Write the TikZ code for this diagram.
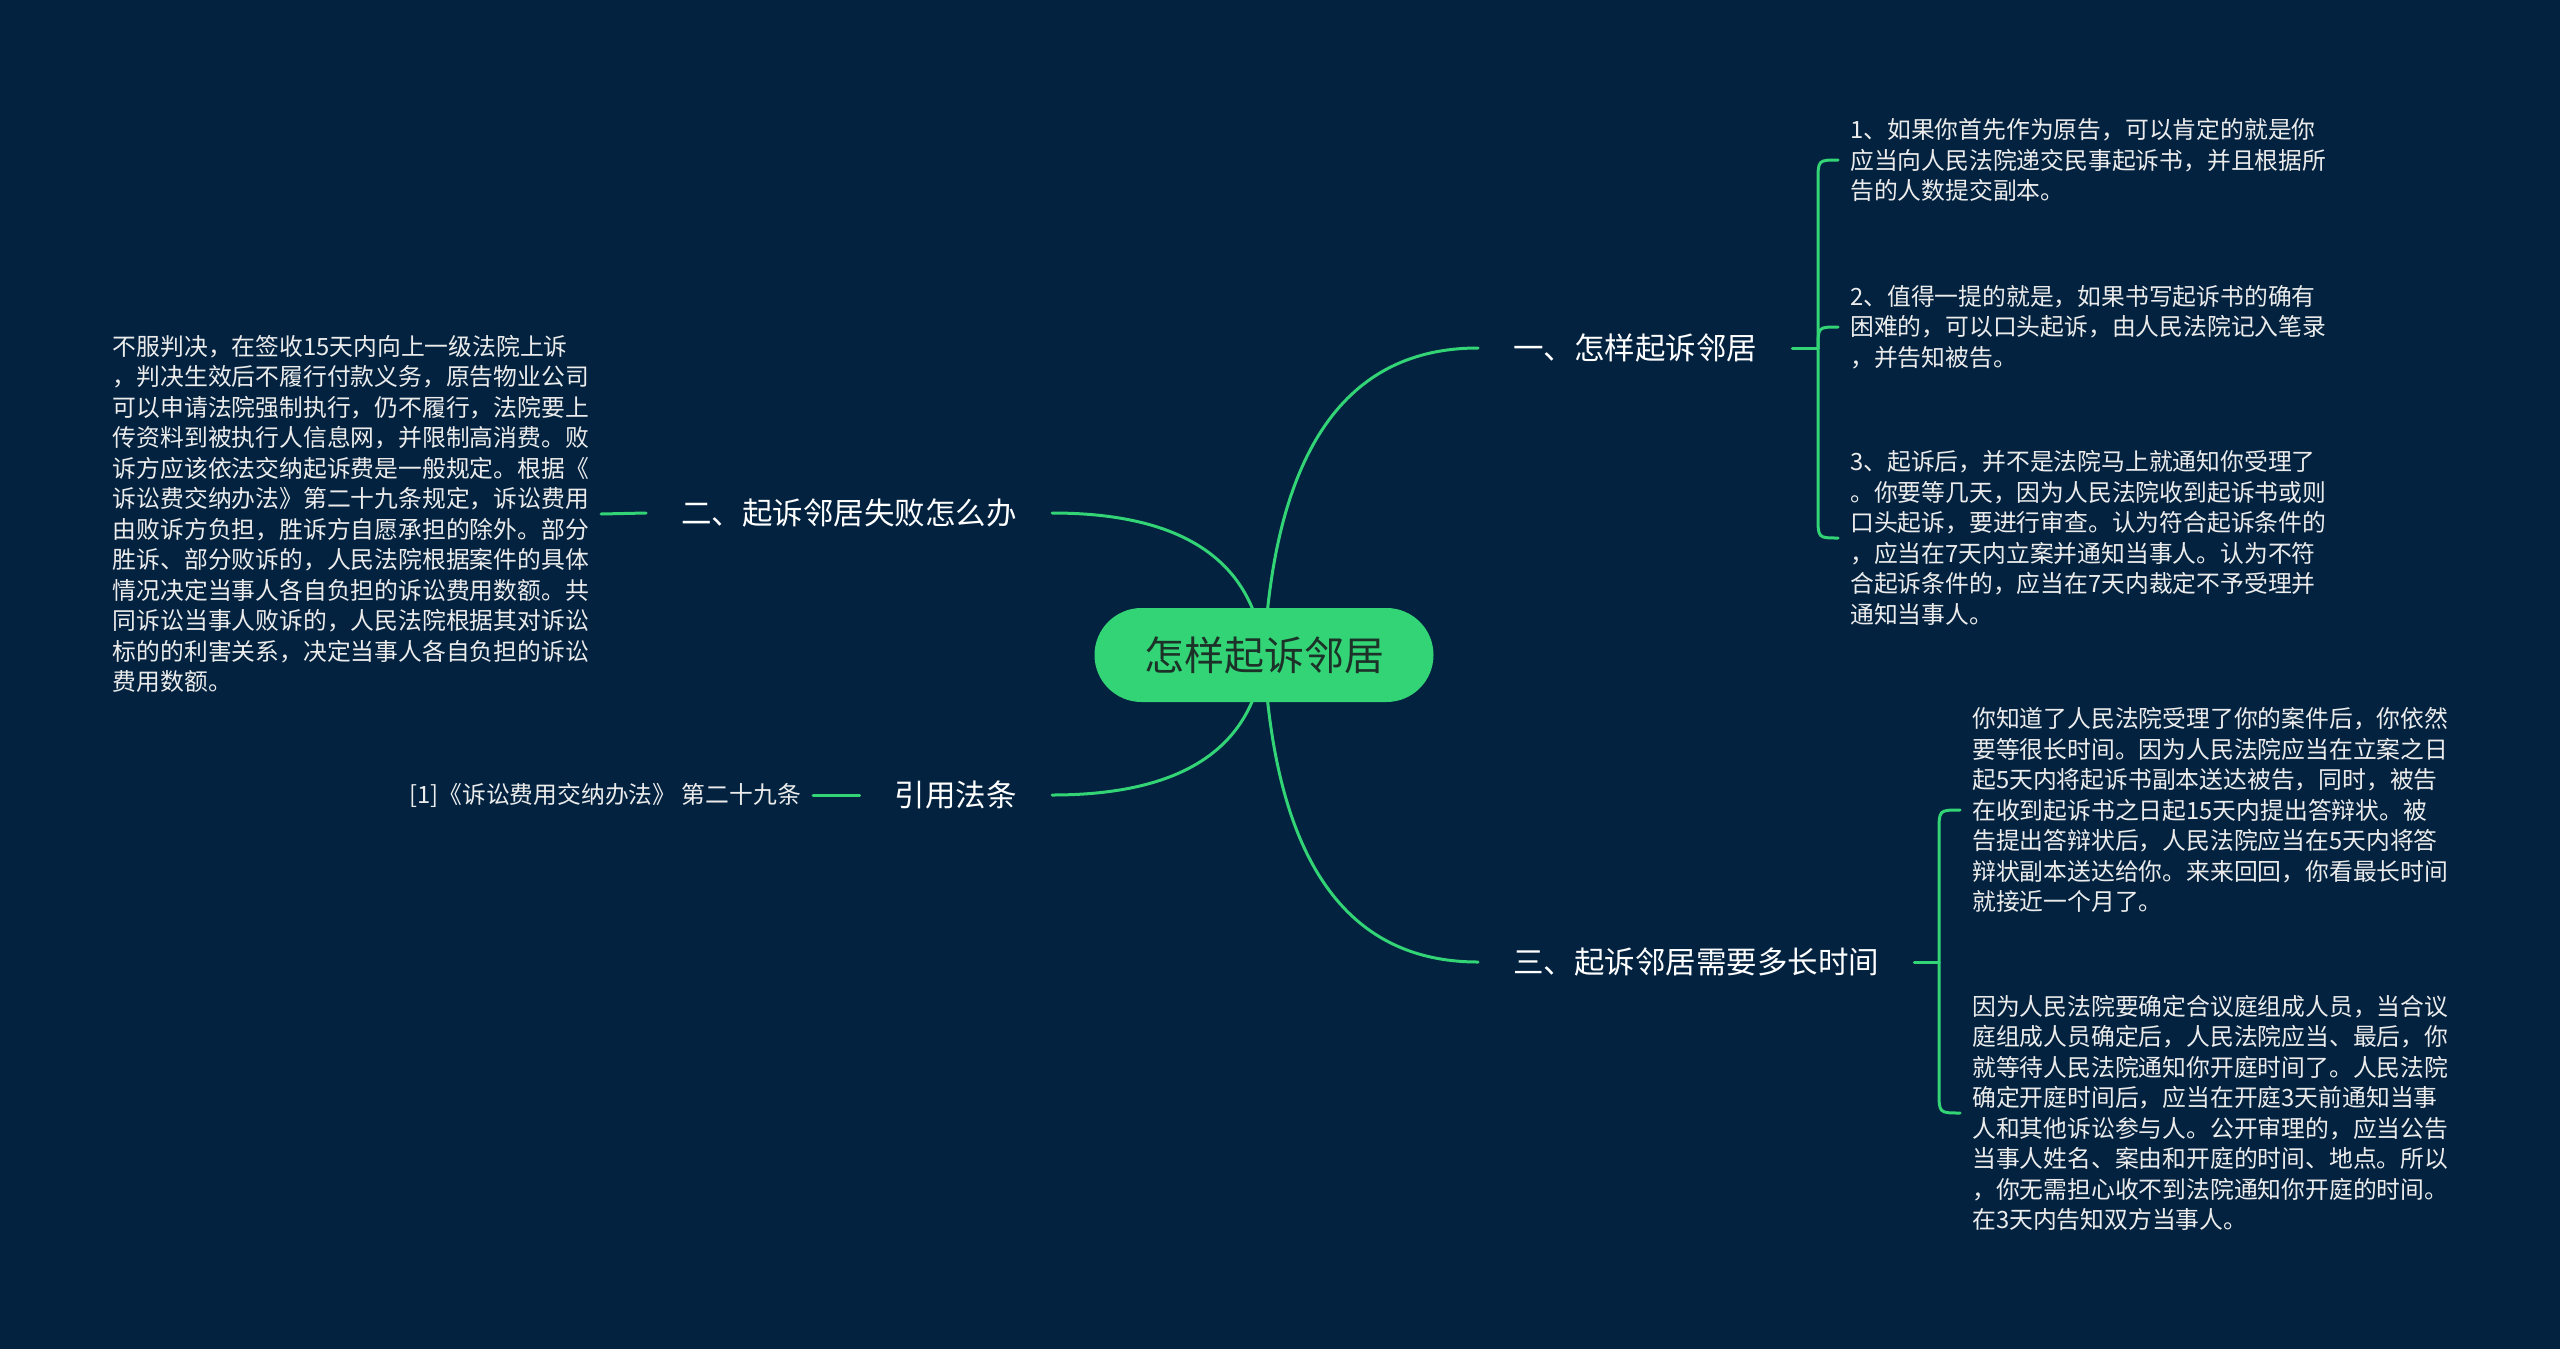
\documentclass[tikz,border=0pt]{standalone}
\usepackage{fontspec}
\setmainfont{Noto Sans CJK SC}
\usetikzlibrary{calc}
\definecolor{bg}{RGB}{2,34,63}
\definecolor{mm}{RGB}{51,212,118}
\definecolor{roottext}{RGB}{28,50,40}
\definecolor{leaftext}{RGB}{236,236,236}
\pgfdeclarelayer{bglayer}
\pgfdeclarelayer{linklayer}
\pgfsetlayers{bglayer,linklayer,main}
\begin{document}
\begin{tikzpicture}[x=1pt,y=-1pt,
  link/.style={draw=mm, line width=3pt, line cap=round},
  rootnode/.style={fill=mm, rounded corners=47pt, minimum width=339pt, minimum height=94pt, inner sep=0pt, text=roottext, font=\fontsize{40}{48}\selectfont},
  branch/.style={text=white, inner xsep=35pt, inner ysep=4pt, font=\fontsize{30.5}{36}\selectfont},
  leaf/.style={text=leaftext, align=left, inner xsep=12pt, inner ysep=4pt, font=\fontsize{23.8}{30.5}\selectfont}]
\useasboundingbox (0,0) rectangle (2560,1349);
\begin{pgfonlayer}{bglayer}
\fill[bg] (0,0) rectangle (2560,1349);
\end{pgfonlayer}

\node[rootnode] (root) at (1264,655) {怎样起诉邻居};
\node[branch, anchor=west] (b1) at (1478,348) {一、怎样起诉邻居};
\node[branch, anchor=east] (b2) at (1052,513) {二、起诉邻居失败怎么办};
\node[branch, anchor=east] (b3) at (1052,795) {引用法条};
\node[branch, anchor=west] (b4) at (1478,962) {三、起诉邻居需要多长时间};

\node[leaf, anchor=west] (l11) at (1838,160) {1、如果你首先作为原告，可以肯定的就是你\\应当向人民法院递交民事起诉书，并且根据所\\告的人数提交副本。};
\node[leaf, anchor=west] (l12) at (1838,327) {2、值得一提的就是，如果书写起诉书的确有\\困难的，可以口头起诉，由人民法院记入笔录\\，并告知被告。};
\node[leaf, anchor=west] (l13) at (1838,538) {3、起诉后，并不是法院马上就通知你受理了\\。你要等几天，因为人民法院收到起诉书或则\\口头起诉，要进行审查。认为符合起诉条件的\\，应当在7天内立案并通知当事人。认为不符\\合起诉条件的，应当在7天内裁定不予受理并\\通知当事人。};

\node[leaf, anchor=east] (l2) at (601,514) {不服判决，在签收15天内向上一级法院上诉\\，判决生效后不履行付款义务，原告物业公司\\可以申请法院强制执行，仍不履行，法院要上\\传资料到被执行人信息网，并限制高消费。败\\诉方应该依法交纳起诉费是一般规定。根据《\\诉讼费交纳办法》第二十九条规定，诉讼费用\\由败诉方负担，胜诉方自愿承担的除外。部分\\胜诉、部分败诉的，人民法院根据案件的具体\\情况决定当事人各自负担的诉讼费用数额。共\\同诉讼当事人败诉的，人民法院根据其对诉讼\\标的的利害关系，决定当事人各自负担的诉讼\\费用数额。};

\node[leaf, anchor=east] (l3) at (813,795) {[1]《诉讼费用交纳办法》 第二十九条};

\node[leaf, anchor=west] (l4a) at (1960,810) {你知道了人民法院受理了你的案件后，你依然\\要等很长时间。因为人民法院应当在立案之日\\起5天内将起诉书副本送达被告，同时，被告\\在收到起诉书之日起15天内提出答辩状。被\\告提出答辩状后，人民法院应当在5天内将答\\辩状副本送达给你。来来回回，你看最长时间\\就接近一个月了。};
\node[leaf, anchor=west] (l4b) at (1960,1113) {因为人民法院要确定合议庭组成人员，当合议\\庭组成人员确定后，人民法院应当、最后，你\\就等待人民法院通知你开庭时间了。人民法院\\确定开庭时间后，应当在开庭3天前通知当事\\人和其他诉讼参与人。公开审理的，应当公告\\当事人姓名、案由和开庭的时间、地点。所以\\，你无需担心收不到法院通知你开庭的时间。\\在3天内告知双方当事人。};

\coordinate (j1) at (1818,348);
\coordinate (j4) at (1939,962);

\begin{pgfonlayer}{linklayer}
\draw[link] (root.center) .. controls (1274.7,450.3) and (1346,348) .. (b1.west);
\draw[link] (root.center) .. controls (1253.3,560.3) and (1182.7,513) .. (b2.east);
\draw[link] (root.center) .. controls (1253.3,748.3) and (1182.7,795) .. (b3.east);
\draw[link] (root.center) .. controls (1274.7,859.7) and (1346,962) .. (b4.west);

\draw[link] (b2.west) -- (l2.east);
\draw[link] (b3.west) -- (l3.east);

\draw[link] (b1.east) -- (j1);
\draw[link] (j1) -- ($(j1|-l11.west)+(0,22)$) .. controls (j1|-l11.west) .. (l11.west);
\draw[link] (j1) .. controls (j1|-l12.west) .. (l12.west);
\draw[link] (j1) -- ($(j1|-l13.west)+(0,-22)$) .. controls (j1|-l13.west) .. (l13.west);

\draw[link] (b4.east) -- (j4);
\draw[link] (j4) -- ($(j4|-l4a.west)+(0,22)$) .. controls (j4|-l4a.west) .. (l4a.west);
\draw[link] (j4) -- ($(j4|-l4b.west)+(0,-22)$) .. controls (j4|-l4b.west) .. (l4b.west);
\end{pgfonlayer}
\end{tikzpicture}
\end{document}
